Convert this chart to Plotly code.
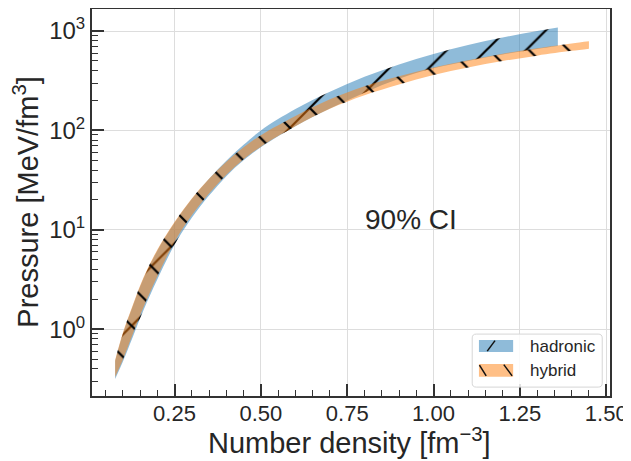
import plotly.graph_objects as go

# number density grid [fm^-3]
x_had = [0.078, 0.10, 0.13, 0.16, 0.20, 0.25, 0.30, 0.35, 0.40, 0.45, 0.50,
         0.60, 0.70, 0.80, 0.90, 1.00, 1.10, 1.20, 1.30, 1.36]
had_lo = [0.316, 0.468, 0.851, 1.55, 3.16, 7.08, 13.2, 22.1, 34.7, 50.1, 67.6,
          110, 166, 240, 331, 422, 501, 582, 661, 708]
had_hi = [0.479, 0.891, 1.74, 3.24, 6.17, 11.75, 20.4, 32.7, 49.6, 71.6, 100,
          164, 245, 347, 462, 589, 724, 861, 1000, 1084]

x_hyb = [0.078, 0.10, 0.13, 0.16, 0.20, 0.25, 0.30, 0.35, 0.40, 0.45, 0.50,
         0.60, 0.70, 0.80, 0.90, 1.00, 1.10, 1.20, 1.30, 1.40, 1.45]
hyb_lo = [0.331, 0.49, 0.912, 1.66, 3.39, 7.59, 14.0, 23.2, 35.9, 51.3, 68.7,
          110, 165, 226, 290, 361, 430, 499, 566, 632, 665]
hyb_hi = [0.49, 0.912, 1.78, 3.31, 6.31, 12.0, 20.7, 32.7, 48.4, 67.6, 89.7,
          140, 206, 279, 352, 430, 509, 592, 671, 750, 789]

x_ticks = [0.25, 0.50, 0.75, 1.00, 1.25, 1.50]
y_ticks = [1, 10, 100, 1000]
y_ticktext = ["10<sup>0</sup>", "10<sup>1</sup>", "10<sup>2</sup>", "10<sup>3</sup>"]

ink = "#262626"
blue = "rgba(31,119,180,0.5)"
orange = "rgba(255,127,14,0.5)"

fig = go.Figure()

# hadronic band: lower edge, then upper edge filled down to it
fig.add_trace(go.Scatter(x=x_had, y=had_lo, mode="lines", line=dict(width=0, shape="spline"),
                         showlegend=False, hoverinfo="skip"))
fig.add_trace(go.Scatter(x=x_had, y=had_hi, mode="lines", line=dict(width=0, shape="spline"),
                         fill="tonexty", fillcolor=blue,
                         fillpattern=dict(shape="/", fgcolor="black", fgopacity=1, size=28, solidity=0.08),
                         name="hadronic", showlegend=False))
# hybrid band
fig.add_trace(go.Scatter(x=x_hyb, y=hyb_lo, mode="lines", line=dict(width=0, shape="spline"),
                         showlegend=False, hoverinfo="skip"))
fig.add_trace(go.Scatter(x=x_hyb, y=hyb_hi, mode="lines", line=dict(width=0, shape="spline"),
                         fill="tonexty", fillcolor=orange,
                         fillpattern=dict(shape="\\", fgcolor="black", fgopacity=1, size=28, solidity=0.08),
                         name="hybrid", showlegend=False))

fig.add_annotation(x=0.935, y=1.10, text="90% CI", showarrow=False,
                   font=dict(size=28, color=ink))

# axis titles placed by hand
fig.add_annotation(xref="paper", yref="paper", x=0.498, y=-0.116,
                   text="Number density [fm<sup>\u22123</sup>]", showarrow=False,
                   xanchor="center", yanchor="middle", font=dict(size=29, color=ink))
fig.add_annotation(xref="paper", yref="paper", x=-0.129, y=0.5,
                   text="Pressure [MeV/fm<sup>3</sup>]", showarrow=False, textangle=-90,
                   xanchor="center", yanchor="middle", font=dict(size=29, color=ink))

# hand-made legend box (matplotlib style, hatched swatches)
shapes = [
    dict(type="path", xref="paper", yref="paper",
         path="M 0.742 0.023 L 0.977 0.023 Q 0.985 0.023 0.985 0.033 L 0.985 0.150 "
              "Q 0.985 0.160 0.977 0.160 L 0.742 0.160 Q 0.734 0.160 0.734 0.150 "
              "L 0.734 0.033 Q 0.734 0.023 0.742 0.023 Z",
         line=dict(color="#d6d6d6", width=1), fillcolor="rgba(255,255,255,0.85)", layer="above"),
    dict(type="rect", xref="paper", yref="paper", x0=0.747, x1=0.813, y0=0.114, y1=0.145,
         line=dict(width=0), fillcolor=blue, layer="above"),
    dict(type="line", xref="paper", yref="paper", x0=0.763, x1=0.778, y0=0.116, y1=0.143,
         line=dict(color="#111", width=1.5), layer="above"),
    dict(type="rect", xref="paper", yref="paper", x0=0.747, x1=0.813, y0=0.050, y1=0.083,
         line=dict(width=0), fillcolor=orange, layer="above"),
    dict(type="line", xref="paper", yref="paper", x0=0.748, x1=0.761, y0=0.080, y1=0.052,
         line=dict(color="#111", width=1.5), layer="above"),
    dict(type="line", xref="paper", yref="paper", x0=0.795, x1=0.811, y0=0.081, y1=0.052,
         line=dict(color="#111", width=1.5), layer="above"),
]
for name, ypos in [("hadronic", 0.129), ("hybrid", 0.067)]:
    fig.add_annotation(xref="paper", yref="paper", x=0.842, y=ypos, text=name,
                       xanchor="left", yanchor="middle", showarrow=False,
                       font=dict(size=17, color=ink))

fig.update_xaxes(
    range=[0.011, 1.511], tickvals=x_ticks, ticktext=[f"{v:.2f}" for v in x_ticks],
    ticks="inside", ticklen=12, tickwidth=2, tickcolor="#333",
    minor=dict(ticks="inside", ticklen=6, tickwidth=1, dtick=0.05, tick0=0,
               tickcolor="#333", showgrid=False),
    showline=True, linecolor="#333", linewidth=2, mirror=True,
    showgrid=True, gridcolor="#dddddd", gridwidth=1, zeroline=False, automargin=False,
    tickfont=dict(size=22, color=ink), ticklabelstandoff=-3)
fig.update_yaxes(
    type="log", range=[-0.672, 3.222], tickvals=y_ticks, ticktext=y_ticktext,
    ticks="inside", ticklen=12, tickwidth=2, tickcolor="#333",
    minor=dict(ticks="inside", ticklen=6, tickwidth=1, dtick="D1",
               tickcolor="#333", showgrid=False),
    showline=True, linecolor="#333", linewidth=2, mirror=True,
    showgrid=True, gridcolor="#dddddd", gridwidth=1, zeroline=False, automargin=False,
    tickfont=dict(size=24, color=ink))

# the page body adds an 8px offset, so the figure is sized to fit the window
fig.update_layout(
    width=623, height=453,
    margin=dict(l=84, r=21, t=1, b=65),
    paper_bgcolor="white", plot_bgcolor="white",
    font=dict(family="Liberation Sans, Arial, sans-serif", color=ink),
    showlegend=False,
    shapes=shapes,
)

fig.write_html("out.html")
